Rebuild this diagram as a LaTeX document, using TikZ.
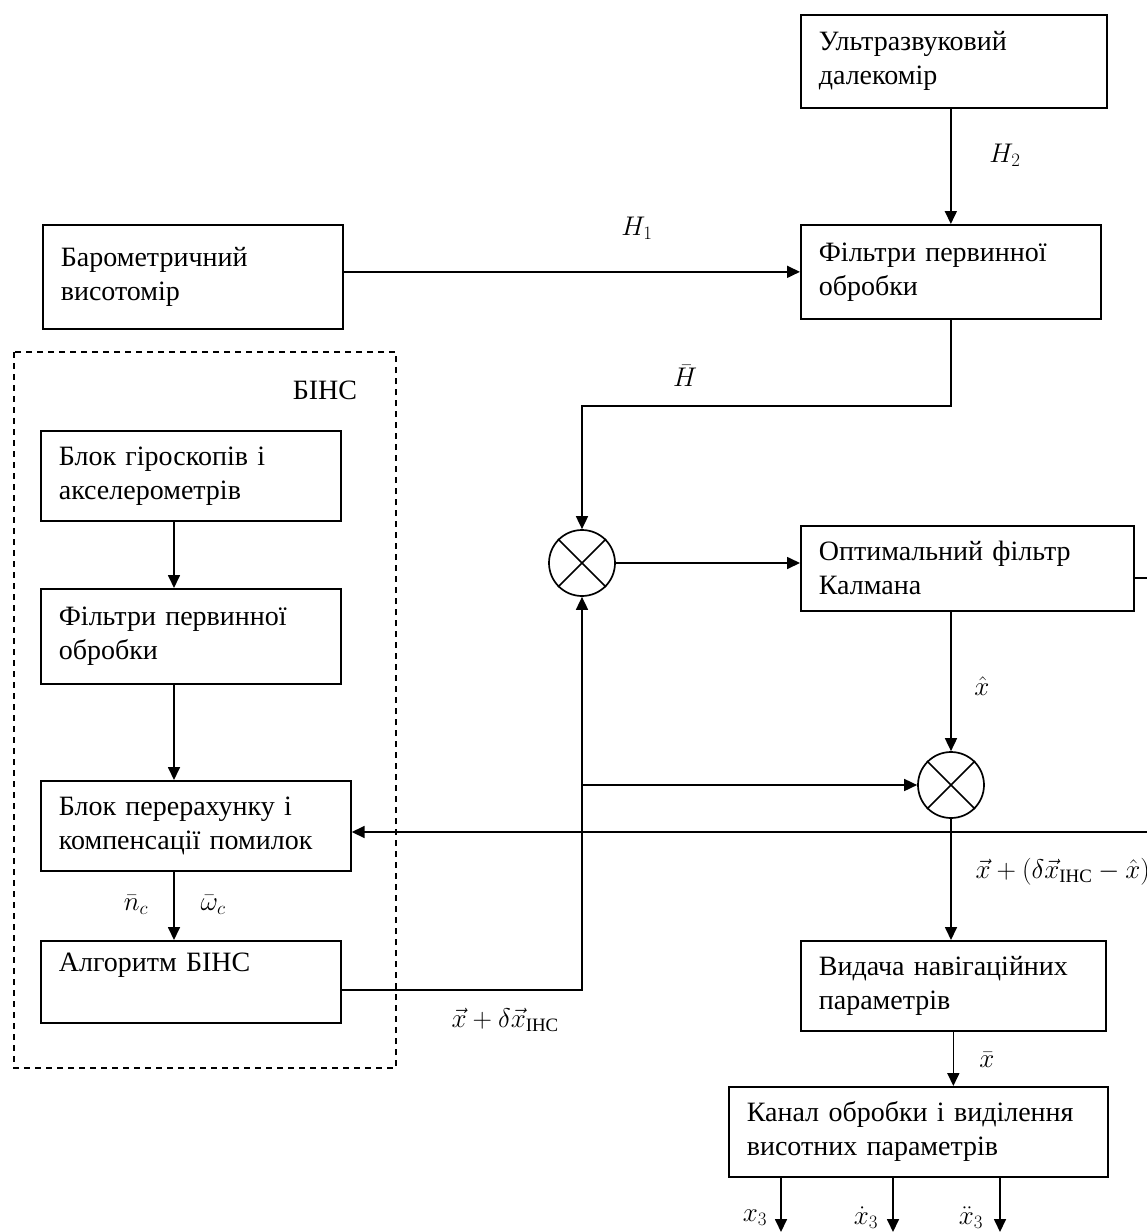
\RequirePackage{fix-cm}
\documentclass[tikz,border=0pt]{standalone}
\usepackage{amsmath}
\usepackage{fontspec}
\setmainfont{Liberation Serif}
\usetikzlibrary{arrows.meta}

\tikzset{every picture/.style={line width=1.7pt}}
\tikzset{
  blk/.style={draw, anchor=north west, inner xsep=18pt, inner ysep=0pt,
    align=left, font=\fontsize{28}{34}\selectfont},
  mult/.style={draw, circle, minimum size=66pt, inner sep=0pt},
  lbl/.style={inner sep=0.75pt, font=\fontsize{27}{32}\selectfont},
  arr/.style={-{Triangle[length=13pt,width=12pt]}}
}

\begin{document}
\begin{tikzpicture}[x=1pt,y=1pt,yscale=-1,xscale=1]
        \useasboundingbox (0,0) rectangle (1147,1232);

        % Blocks
        \node [blk, text width=270pt, minimum height=93pt] (ultra) at (800,14) {Ультразвуковий\\далекомір};
        \node [blk, text width=264pt, minimum height=94pt] (filt) at (800,224) {Фільтри первинної\\обробки};
        \node [blk, text width=264pt, minimum height=104pt] (baro) at (42,224) {Барометричний\\висотомір\\[6pt]};
        \node [blk, text width=297pt, minimum height=85pt] (kalman) at (800,525) {Оптимальний фільтр\\Калмана};
        \node [blk, text width=269pt, minimum height=90pt] (out) at (800,940) {Видача навігаційних\\параметрів};
        \node [blk, text width=343pt, minimum height=90pt] (chan) at (728,1086) {Канал обробки і виділення\\висотних параметрів};

        % БІНС
        \draw [dashed, dash pattern=on 6pt off 5pt] (14,352) rectangle (396,1068);
        \node [blk, draw=none, anchor=center, inner xsep=0pt] (bins) at (325,390) {БІНС};
        \node [blk, text width=264pt, minimum height=90pt] (gyro) at (40,430) {Блок гіроскопів і\\акселерометрів};
        \node [blk, text width=264pt, minimum height=95pt] (bfilt) at (40,588) {Фільтри первинної\\обробки};
        \node [blk, text width=274pt, minimum height=90pt] (comp) at (40,780) {Блок перерахунку і\\компенсації помилок};
        \node [blk, text width=264pt, minimum height=82pt] (alg) at (40,940) {Алгоритм БІНС\\[-4pt] \strut};

        % Multipliers
        \node [mult] (m1) at (582,563) {};
        \draw (m1.45) -- (m1.225) (m1.135) -- (m1.315);
        \node [mult] (m2) at (951,785) {};
        \draw (m2.45) -- (m2.225) (m2.135) -- (m2.315);

        % Helper points
        \coordinate (lx) at (174,0);
        \coordinate (hb) at (950,406);
        \coordinate (j) at (582,990);
        \coordinate (fbtop) at (1160,578);
        \coordinate (fbbot) at (1160,832);

        % Connectors
        \draw [arr] (ultra.south -| filt.north) -- (filt.north);
        \draw [arr] (baro.east |- filt.west) -- (filt.west);
        \draw [arr] (filt.south) -- (filt.south |- hb) -| (m1.north);
        \draw [arr] (m1.east) -- (m1 -| kalman.west);
        \draw (kalman.east |- fbtop) -- (fbtop) -- (fbbot);
        \draw [arr] (fbbot) -- (comp.east |- fbbot);
        \draw [arr] (m2.north |- kalman.south) -- (m2.north);
        \draw [arr] (alg.east |- j) -- (j) -- (m1.south);
        \draw [arr] (j |- m2) -- (m2.west);
        \draw [arr] (m2.south) -- (m2.south |- out.north);
        \draw [arr] (out.south) -- (out.south |- chan.north);
        \draw [arr] (781,1176) -- (781,1232);
        \draw [arr] (893,1176) -- (893,1232);
        \draw [arr] (1000,1176) -- (1000,1232);
        \draw [arr] (lx |- gyro.south) -- (lx |- bfilt.north);
        \draw [arr] (lx |- bfilt.south) -- (lx |- comp.north);
        \draw [arr] (lx |- comp.south) -- (lx |- alg.north);

        % Labels
        \node [lbl] (lh2) at (1005,155) {$H_2$};
        \node [lbl] (lh1) at (637,228) {$H_1$};
        \node [lbl] (lhbar) at (685,376) {$\bar{H}$};
        \node [lbl] (lxhat) at (982,686) {$\hat{x}$};
        \node [lbl, anchor=west] (lsum) at (974,872) {$\vec{x}+(\delta\vec{x}_{\text{ІНС}}-\hat{x})$};
        \node [lbl, anchor=west] (lins) at (450,1020) {$\vec{x}+\delta\vec{x}_{\text{ІНС}}$};
        \node [lbl] (lnc) at (136,905) {$\bar{n}_c$};
        \node [lbl] (lwc) at (213,905) {$\bar{\omega}_c$};
        \node [lbl] (lxbar) at (987,1060) {$\bar{x}$};
        \node [lbl] (lx3) at (755,1218) {$x_3$};
        \node [lbl] (ldx3) at (866,1218) {$\dot{x}_3$};
        \node [lbl] (lddx3) at (971,1218) {$\ddot{x}_3$};

    \end{tikzpicture}
\end{document}
